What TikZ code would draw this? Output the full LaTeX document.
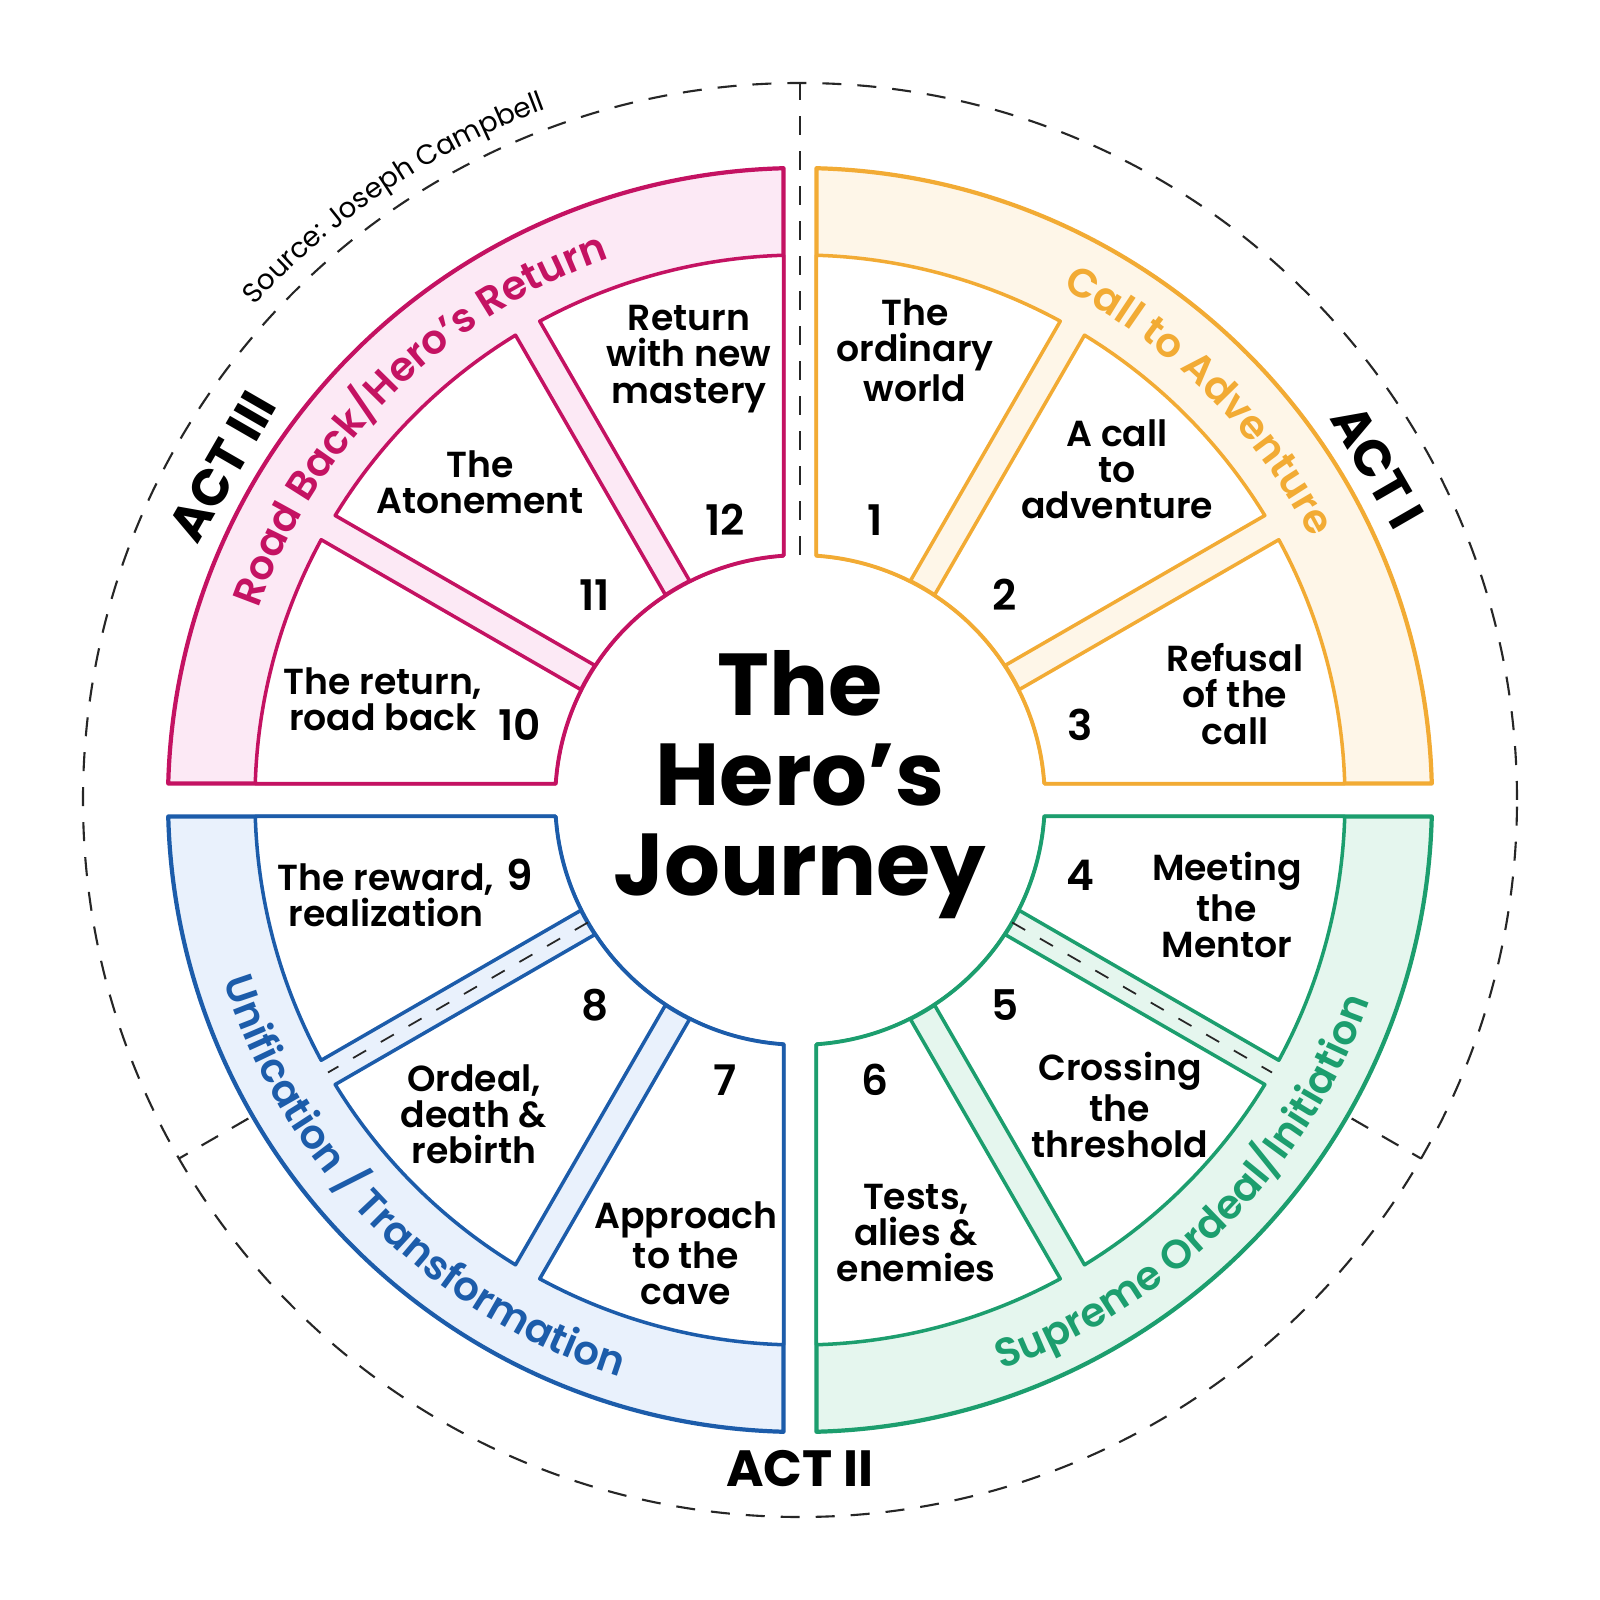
\documentclass[tikz,border=0pt]{standalone}
\usepackage{fontspec}
\setmainfont{Poppins}
\newfontfamily\stagefont{Poppins SemiBold}
\usepackage{tikz}
\usetikzlibrary{decorations.text}
\definecolor{actorange}{RGB}{242, 171, 52}
\definecolor{actorangefill}{RGB}{254, 246, 232}
\definecolor{actmagenta}{RGB}{196, 18, 98}
\definecolor{actmagentafill}{RGB}{252, 233, 245}
\definecolor{actblue}{RGB}{28, 92, 170}
\definecolor{actbluefill}{RGB}{233, 241, 252}
\definecolor{actgreen}{RGB}{28, 158, 110}
\definecolor{actgreenfill}{RGB}{229, 246, 238}

% ring piece between edge angles #1 (offset #2) and #3 (offset #4), radii #5 to #6
\newcommand\ringpiece[6]{({#1-asin(#2/#5)}:#5) -- ({#1-asin(#2/#6)}:#6)
  arc[start angle={#1-asin(#2/#6)}, end angle={#3+asin(#4/#6)}, radius=#6]
  -- ({#3+asin(#4/#5)}:#5)
  arc[start angle={#3+asin(#4/#5)}, end angle={#1-asin(#2/#5)}, radius=#5] -- cycle}
\def\ringin{2.45}
\def\ringmid{5.45}
\def\ringout{6.32}
\def\ringdash{7.17}
\def\quadgap{0.165}
\def\spokegap{0.14}

\begin{document}
\begin{tikzpicture}[
    seg/.style={line width=1pt, fill=white, line join=round},
    band/.style={line width=1.2pt, line join=round},
    actline/.style={draw=black!85, line width=0.6pt, dash pattern=on 1.9mm off 1.6mm},
    stage/.style={align=center, font=\fontsize{10.3}{10.3}\selectfont\stagefont},
    num/.style={font=\fontsize{12}{12}\selectfont\stagefont},
    act/.style={font=\fontsize{14.5}{15}\selectfont\bfseries},
    title/.style={align=center, font=\fontsize{25}{25.6}\selectfont\bfseries}
  ]
  \useasboundingbox (-8,-8) rectangle (8,8);
  \fill[white] (-8,-8) rectangle (8,8);
  \coordinate (hub) at (0,0);

  \foreach \rot/\col/\tint in {0/actorange/actorangefill, -90/actgreen/actgreenfill,
      -180/actblue/actbluefill, 90/actmagenta/actmagentafill}{
    \begin{scope}[rotate=\rot]
      \draw[band, draw=\col, fill=\tint] \ringpiece{90}{\quadgap}{0}{\quadgap}{\ringin}{\ringout};
      \draw[seg, draw=\col] \ringpiece{90}{\quadgap}{60}{\spokegap}{\ringin}{\ringmid};
      \draw[seg, draw=\col] \ringpiece{60}{\spokegap}{30}{\spokegap}{\ringin}{\ringmid};
      \draw[seg, draw=\col] \ringpiece{30}{\spokegap}{0}{\quadgap}{\ringin}{\ringmid};
    \end{scope}
  }

  % act borders
  \draw[actline] (hub) circle[radius=\ringdash];
  \draw[actline] (90:\ringin) -- (90:\ringdash);
  \foreach \ang in {-30, 210}{
    \draw[actline, line width=0.5pt, dash pattern=on 1.5mm off 1.7mm] (\ang:\ringin) -- (\ang:\ringmid);
    \draw[actline] (\ang:{\ringout+0.05}) -- (\ang:\ringdash);
  }

  \node[title] (title) at (0,0.15) {The\\Hero’s\\Journey};

  \node[stage] (s1) at (1.15,4.50) {The\\ordinary\\world};
  \node[stage] (s2) at (3.17,3.31) {A call\\to\\adventure};
  \node[stage] (s3) at (4.35,1.06) {Refusal\\of the\\call};
  \node[stage] (s4) at (4.27,-1.05) {Meeting\\the\\Mentor};
  \node[stage] (s5) at (3.20,-3.05) {Crossing\\the\\threshold};
  \node[stage] (s6) at (1.16,-4.33) {Tests,\\alies \&\\enemies};
  \node[stage] (s7) at (-1.14,-4.53) {Approach\\to the\\cave};
  \node[stage] (s8) at (-3.26,-3.14) {Ordeal,\\death \&\\rebirth};
  \node[stage] (s9) at (-4.14,-0.95) {The reward,\\realization};
  \node[stage] (s10) at (-4.17,1.01) {The return,\\road back};
  \node[stage] (s11) at (-3.20,3.18) {The\\Atonement};
  \node[stage] (s12) at (-1.11,4.41) {Return\\with new\\mastery};

  \foreach \k in {1,...,12}
    \node[num] (n\k) at ({105-30*\k}:2.9) {\k};

  \node[act, rotate=-60] (act1) at (30:6.67) {ACT I};
  \node[act] (act2) at (270:6.69) {ACT II};
  \node[act, rotate=60] (act3) at (150:6.67) {ACT III};

  \path[decorate, decoration={text along path, text align=center, text color=actorange,
      text={|\fontsize{11.5}{12}\selectfont\stagefont|Call to Adventure}}]
    (90:5.74) arc[start angle=90, end angle=0, radius=5.74];
  \path[decorate, decoration={text along path, text align=center, text color=actmagenta,
      text={|\fontsize{11.5}{12}\selectfont\stagefont|Road Back/Hero’s Return}}]
    (180:5.74) arc[start angle=180, end angle=90, radius=5.74];
  \path[decorate, decoration={text along path, text align=center, text color=actblue,
      text={|\fontsize{11.5}{12}\selectfont\stagefont|Unification / Transformation}}]
    (180:6.04) arc[start angle=180, end angle=270, radius=6.04];
  \path[decorate, decoration={text along path, text align=center, text color=actgreen,
      text={|\fontsize{11.5}{12}\selectfont\stagefont|Supreme Ordeal/Initiation}}]
    (270:6.04) arc[start angle=270, end angle=360, radius=6.04];
  \path[decorate, decoration={text along path, text align=center,
      text={|\fontsize{7.9}{10}\selectfont|Source: Joseph Campbell}}]
    (150:7.36) arc[start angle=150, end angle=98, radius=7.36];
\end{tikzpicture}
\end{document}
